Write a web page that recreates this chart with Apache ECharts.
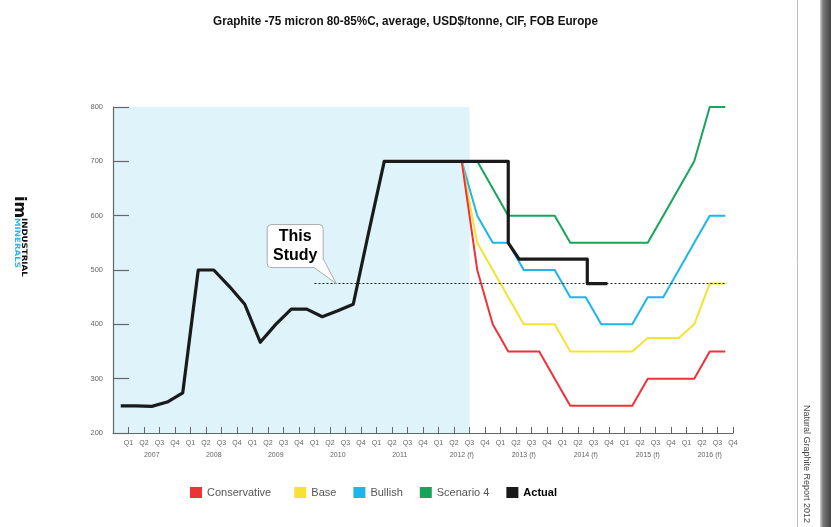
<!DOCTYPE html>
<html>
<head>
<meta charset="utf-8">
<script src="https://cdn.jsdelivr.net/npm/echarts@6.0.0/dist/echarts.min.js"></script>
<style>
html, body { margin: 0; padding: 0; background: #fff; }
#main { width: 831px; height: 527px; }
</style>
</head>
<body>
<div id="main"></div>
<script>
var quarterNames = ['Q1', 'Q2', 'Q3', 'Q4'];
var yearLabels = ['2007', '2008', '2009', '2010', '2011', '2012 (f)', '2013 (f)', '2014 (f)', '2015 (f)', '2016 (f)'];

// actual price, one value per quarter from Q1 2007 to Q2 2013
var actualValues = [250, 250, 249, 257, 274, 500, 500, 470, 437, 367, 400, 428, 428, 414, 425, 437, 570,
    700, 700, 700, 700, 700, 700, 700, 700, 700];
// stepped tail of the actual line (quarter position, price)
var actualTailX = [25.5, 26.2, 30.6, 30.6, 31.9];
var actualTailY = [550, 520, 520, 475, 475];

// forecasts, one value per quarter from Q3 2012 to Q4 2016
var forecastStart = 22;
var conservative = [700, 500, 400, 350, 350, 350, 300, 250, 250, 250, 250, 250, 300, 300, 300, 300, 350, 350];
var base = [700, 550, 500, 450, 400, 400, 400, 350, 350, 350, 350, 350, 375, 375, 375, 400, 475, 475];
var bullish = [700, 600, 550, 550, 500, 500, 500, 450, 450, 400, 400, 400, 450, 450, 500, 550, 600, 600];
var scenario4 = [700, 700, 650, 600, 600, 600, 600, 550, 550, 550, 550, 550, 550, 600, 650, 700, 800, 800];

// "This Study" level and shaded history range
var studyLevel = 475;
var studyFrom = 13;
var studyTo = 39.6;
var historyEnd = 23;

var sans = "'Liberation Sans', Arial, sans-serif";

function toPairs(vals, start) {
    return vals.map(function (v, i) { return [start + i + 0.5, v]; });
}

var actualData = toPairs(actualValues, 0);
actualTailX.forEach(function (x, i) { actualData.push([x, actualTailY[i]]); });

var chart = echarts.init(document.getElementById('main'));

function lineSeries(name, data, color, width) {
    return {
        name: name,
        type: 'line',
        data: data,
        symbol: 'none',
        lineStyle: { color: color, width: width, join: 'round' },
        itemStyle: { color: color },
        emphasis: { disabled: true },
        silent: true
    };
}

var option = {
    animation: false,
    backgroundColor: '#fff',
    legend: {
        left: 185,
        top: 482,
        icon: 'rect',
        itemWidth: 12,
        itemHeight: 11,
        itemGap: 17,
        textStyle: { fontSize: 11, color: '#555', fontFamily: sans },
        // a bit more room after the first entry, as in the original
        formatter: function (name) { return name === 'Conservative' ? name + '  ' : name; },
        data: [
            'Conservative', 'Base', 'Bullish', 'Scenario 4',
            { name: 'Actual', textStyle: { fontWeight: 'bold', color: '#000' } }
        ]
    },
    grid: { left: 113, right: 98, top: 107, bottom: 94 },
    xAxis: [
        {
            type: 'value',
            min: 0,
            max: 40,
            interval: 1,
            z: 5,
            axisLine: { lineStyle: { color: '#666', width: 1.2 } },
            axisTick: { inside: true, length: 6, lineStyle: { color: '#666' } },
            splitLine: { show: false },
            axisLabel: {
                color: '#666', fontSize: 7, fontFamily: sans, margin: 7,
                formatter: function (v) { return v < 1 ? '' : quarterNames[(v - 1) % 4]; }
            }
        },
        {
            type: 'value',
            min: 0,
            max: 40,
            position: 'bottom',
            offset: 12,
            axisLine: { show: false },
            axisTick: { show: false },
            splitLine: { show: false },
            axisLabel: {
                color: '#666', fontSize: 7, fontFamily: sans, margin: 7,
                customValues: yearLabels.map(function (y, i) { return i * 4 + 2.5; }),
                formatter: function (v) { return yearLabels[Math.round((v - 2.5) / 4)]; }
            }
        }
    ],
    yAxis: {
        type: 'value',
        min: 200,
        max: 800,
        interval: 100,
        z: 5,
        axisLine: { show: true, lineStyle: { color: '#666', width: 1.2 } },
        axisTick: { show: true, inside: true, length: 16, lineStyle: { color: '#666', width: 1.2 } },
        splitLine: { show: false },
        axisLabel: { color: '#666', fontSize: 7.5, fontFamily: sans, margin: 10 }
    },
    series: [
        {
            name: 'bg',
            type: 'line',
            data: [],
            silent: true,
            markArea: {
                silent: true,
                itemStyle: { color: '#dff3fb' },
                data: [[{ coord: [0, 200] }, { coord: [historyEnd, 800] }]]
            },
            markLine: {
                silent: true,
                symbol: ['none', 'none'],
                label: { show: false },
                lineStyle: { color: '#222', width: 1, type: [2, 2] },
                data: [[{ coord: [studyFrom, studyLevel] }, { coord: [studyTo, studyLevel] }]]
            }
        },
        lineSeries('Scenario 4', toPairs(scenario4, forecastStart), '#18a55a', 2),
        lineSeries('Bullish', toPairs(bullish, forecastStart), '#1cb6ea', 2),
        lineSeries('Base', toPairs(base, forecastStart), '#f5e332', 2),
        lineSeries('Conservative', toPairs(conservative, forecastStart), '#ee3338', 2),
        lineSeries('Actual', actualData, '#1a1a1a', 3.2)
    ]
};

chart.setOption(option);

// callout "This Study" pointing at the start of the dotted line
var tip = chart.convertToPixel({ gridIndex: 0 }, [14.4, studyLevel]);

chart.setOption({
    graphic: [
        // title, slightly condensed like the original typeface
        {
            type: 'text',
            x: 405.5,
            y: 21,
            scaleX: 0.9,
            style: {
                text: 'Graphite -75 micron 80-85%C, average, USD$/tonne, CIF, FOB Europe',
                font: 'bold 13px ' + sans,
                fill: '#111',
                align: 'center',
                verticalAlign: 'middle'
            }
        },
        {
            type: 'group',
            x: tip[0],
            y: tip[1],
            children: [
                {
                    type: 'rect',
                    z: 100,
                    shape: { x: -69, y: -59, width: 56, height: 43, r: 4 },
                    style: { fill: '#fff', stroke: '#aaa', lineWidth: 1 }
                },
                {
                    type: 'polygon',
                    z: 101,
                    shape: { points: [[-22, -15.5], [-12.4, -25], [0, 0]] },
                    style: { fill: '#fff' }
                },
                {
                    type: 'polyline',
                    z: 102,
                    shape: { points: [[-22, -16], [0, 0], [-13, -25]] },
                    style: { stroke: '#aaa', lineWidth: 1, fill: null }
                },
                {
                    type: 'text',
                    z: 103,
                    x: -41,
                    y: -37.5,
                    style: {
                        text: 'This\nStudy',
                        font: 'bold 16px ' + sans,
                        lineHeight: 19,
                        fill: '#000',
                        align: 'center',
                        verticalAlign: 'middle'
                    }
                }
            ]
        },
        // logo on the left
        {
            type: 'text',
            x: 19,
            y: 207,
            rotation: -Math.PI / 2,
            style: {
                text: 'im',
                font: 'bold 16px "DejaVu Sans", sans-serif',
                fill: '#111',
                align: 'center',
                verticalAlign: 'middle'
            }
        },
        {
            type: 'text',
            x: 23.5,
            y: 218,
            rotation: -Math.PI / 2,
            scaleX: 1.15,
            style: {
                text: 'INDUSTRIAL',
                font: 'bold 7.5px "DejaVu Sans", sans-serif',
                fill: '#111',
                align: 'left',
                verticalAlign: 'middle'
            }
        },
        {
            type: 'text',
            x: 16.5,
            y: 218,
            rotation: -Math.PI / 2,
            scaleX: 1.15,
            style: {
                text: 'MINERALS',
                font: 'bold 7.5px "DejaVu Sans", sans-serif',
                fill: '#3ab4e6',
                align: 'left',
                verticalAlign: 'middle'
            }
        },
        // page edge on the right
        {
            type: 'line',
            shape: { x1: 797.5, y1: 0, x2: 797.5, y2: 527 },
            style: { stroke: '#bbb', lineWidth: 1 }
        },
        {
            type: 'rect',
            shape: { x: 820, y: 0, width: 11, height: 527 },
            style: {
                fill: new echarts.graphic.LinearGradient(0, 0, 1, 0, [
                    { offset: 0, color: '#d0d0d0' },
                    { offset: 0.3, color: '#777' },
                    { offset: 1, color: '#444' }
                ])
            }
        },
        {
            type: 'text',
            x: 806,
            y: 405,
            rotation: -Math.PI / 2,
            style: {
                text: 'Natural Graphite Report 2012',
                font: '9px ' + sans,
                fill: '#444',
                align: 'left',
                verticalAlign: 'middle'
            }
        }
    ]
});
</script>
</body>
</html>
